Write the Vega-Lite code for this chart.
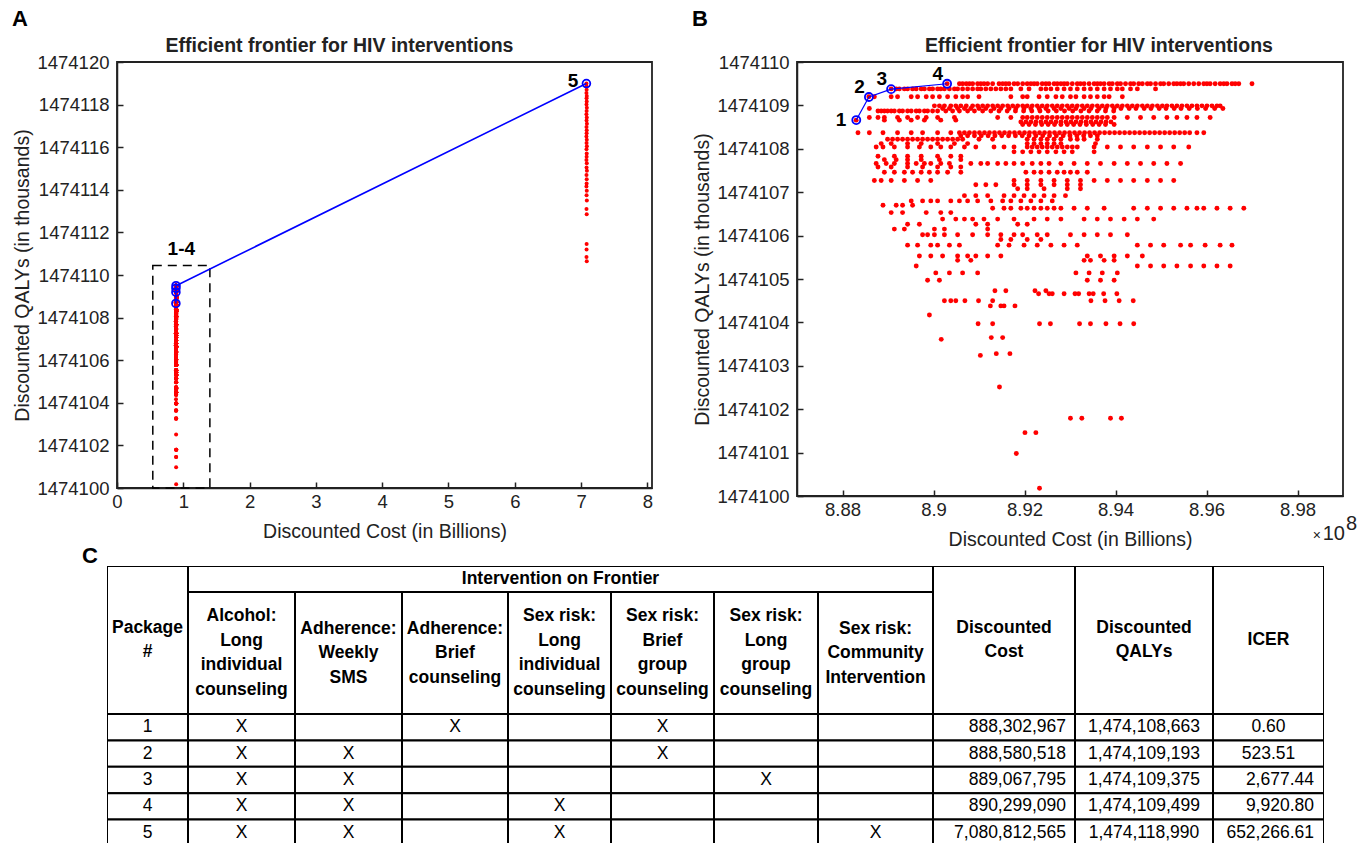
{
"$schema":"https://vega.github.io/schema/vega-lite/v6.json",
"background":"white",
"padding":{"left":11,"top":7,"right":0,"bottom":0},
"datasets":{
"fr":[{"pkg":"1","c":888.302967,"q":1474108.663},{"pkg":"2","c":888.580518,"q":1474109.193},{"pkg":"3","c":889.067795,"q":1474109.375},{"pkg":"4","c":890.29909,"q":1474109.499},{"pkg":"5","c":7080.812565,"q":1474118.99}],
"box":[{"c0":540,"c1":1401,"cm":970,"q0":1474100,"q1":1474110.45,"t":"1-4"}],
"tbl":[
{"pkg":"1","alc":"X","sms":"","brf":"X","sli":"","sbg":"X","slg":"","com":"","cost":"888,302,967","qaly":"1,474,108,663","icer":"0.60"},
{"pkg":"2","alc":"X","sms":"X","brf":"","sli":"","sbg":"X","slg":"","com":"","cost":"888,580,518","qaly":"1,474,109,193","icer":"523.51"},
{"pkg":"3","alc":"X","sms":"X","brf":"","sli":"","sbg":"","slg":"X","com":"","cost":"889,067,795","qaly":"1,474,109,375","icer":"2,677.44"},
{"pkg":"4","alc":"X","sms":"X","brf":"","sli":"X","sbg":"","slg":"","com":"","cost":"890,299,090","qaly":"1,474,109,499","icer":"9,920.80"},
{"pkg":"5","alc":"X","sms":"X","brf":"","sli":"X","sbg":"","slg":"","com":"X","cost":"7,080,812,565","qaly":"1,474,118,990","icer":"652,266.61"}],
"pts":[
{"c":890.3,"q":1474109.5},{"c":890.57,"q":1474109.5},{"c":890.64,"q":1474109.5},{"c":890.72,"q":1474109.5},{"c":890.79,"q":1474109.5},{"c":890.86,"q":1474109.5},{"c":890.97,"q":1474109.5},{"c":891.04,"q":1474109.5},{"c":891.11,"q":1474109.5},{"c":891.19,"q":1474109.5},{"c":891.3,"q":1474109.5},{"c":891.44,"q":1474109.5},{"c":891.52,"q":1474109.5},{"c":891.59,"q":1474109.5},{"c":891.66,"q":1474109.5},{"c":891.77,"q":1474109.5},{"c":891.85,"q":1474109.5},{"c":891.96,"q":1474109.5},{"c":892.06,"q":1474109.5},{"c":892.14,"q":1474109.5},{"c":892.21,"q":1474109.5},{"c":892.28,"q":1474109.5},{"c":892.39,"q":1474109.5},{"c":892.47,"q":1474109.5},{"c":892.54,"q":1474109.5},{"c":892.65,"q":1474109.5},{"c":892.72,"q":1474109.5},{"c":892.8,"q":1474109.5},{"c":892.87,"q":1474109.5},{"c":892.94,"q":1474109.5},{"c":893.05,"q":1474109.5},{"c":893.16,"q":1474109.5},{"c":893.23,"q":1474109.5},{"c":893.31,"q":1474109.5},{"c":893.42,"q":1474109.5},{"c":893.53,"q":1474109.5},{"c":893.6,"q":1474109.5},{"c":893.67,"q":1474109.5},{"c":893.75,"q":1474109.5},{"c":893.86,"q":1474109.5},{"c":893.93,"q":1474109.5},{"c":894.04,"q":1474109.5},{"c":894.11,"q":1474109.5},{"c":894.22,"q":1474109.5},{"c":894.33,"q":1474109.5},{"c":894.4,"q":1474109.5},{"c":894.51,"q":1474109.5},{"c":894.59,"q":1474109.5},{"c":894.7,"q":1474109.5},{"c":894.77,"q":1474109.5},{"c":894.88,"q":1474109.5},{"c":894.99,"q":1474109.5},{"c":895.06,"q":1474109.5},{"c":895.17,"q":1474109.5},{"c":895.28,"q":1474109.5},{"c":895.35,"q":1474109.5},{"c":895.43,"q":1474109.5},{"c":895.5,"q":1474109.5},{"c":895.61,"q":1474109.5},{"c":895.72,"q":1474109.5},{"c":895.83,"q":1474109.5},{"c":895.94,"q":1474109.5},{"c":896.01,"q":1474109.5},{"c":896.08,"q":1474109.5},{"c":896.19,"q":1474109.5},{"c":896.3,"q":1474109.5},{"c":896.38,"q":1474109.5},{"c":896.45,"q":1474109.5},{"c":896.56,"q":1474109.5},{"c":896.63,"q":1474109.5},{"c":896.71,"q":1474109.5},{"c":897.0,"q":1474109.5},
{"c":889.07,"q":1474109.38},{"c":889.18,"q":1474109.38},{"c":889.25,"q":1474109.38},{"c":889.36,"q":1474109.38},{"c":889.43,"q":1474109.38},{"c":889.54,"q":1474109.38},{"c":889.62,"q":1474109.38},{"c":889.73,"q":1474109.38},{"c":889.8,"q":1474109.38},{"c":889.91,"q":1474109.38},{"c":889.98,"q":1474109.38},{"c":890.09,"q":1474109.38},{"c":890.16,"q":1474109.38},{"c":890.24,"q":1474109.38},{"c":890.35,"q":1474109.38},{"c":890.46,"q":1474109.38},{"c":890.53,"q":1474109.38},{"c":890.64,"q":1474109.38},{"c":890.75,"q":1474109.38},{"c":890.86,"q":1474109.38},{"c":890.97,"q":1474109.38},{"c":891.04,"q":1474109.38},{"c":891.15,"q":1474109.38},{"c":891.26,"q":1474109.38},{"c":891.37,"q":1474109.38},{"c":891.48,"q":1474109.38},{"c":891.59,"q":1474109.38},{"c":891.7,"q":1474109.38},{"c":891.92,"q":1474109.38},{"c":892.1,"q":1474109.38},{"c":892.36,"q":1474109.38},{"c":892.47,"q":1474109.38},{"c":892.58,"q":1474109.38},{"c":892.72,"q":1474109.38},{"c":892.87,"q":1474109.38},{"c":893.01,"q":1474109.38},{"c":893.16,"q":1474109.38},{"c":893.31,"q":1474109.38},{"c":893.45,"q":1474109.38},{"c":893.6,"q":1474109.38},{"c":893.75,"q":1474109.38},{"c":893.89,"q":1474109.38},{"c":894.04,"q":1474109.38},{"c":894.15,"q":1474109.38},{"c":894.33,"q":1474109.38},{"c":894.48,"q":1474109.38},{"c":894.88,"q":1474109.38},
{"c":888.58,"q":1474109.2},{"c":888.7,"q":1474109.2},{"c":889.07,"q":1474109.2},{"c":889.21,"q":1474109.2},{"c":889.51,"q":1474109.2},{"c":889.65,"q":1474109.2},{"c":889.84,"q":1474109.2},{"c":889.98,"q":1474109.2},{"c":890.13,"q":1474109.2},{"c":890.31,"q":1474109.2},{"c":890.49,"q":1474109.2},{"c":890.64,"q":1474109.2},{"c":890.75,"q":1474109.2},{"c":891.0,"q":1474109.2},{"c":891.7,"q":1474109.2},{"c":891.96,"q":1474109.2},{"c":892.06,"q":1474109.2},{"c":892.32,"q":1474109.2},{"c":892.5,"q":1474109.2},{"c":892.69,"q":1474109.2},{"c":892.83,"q":1474109.2},{"c":893.01,"q":1474109.2},{"c":893.13,"q":1474109.2},{"c":893.31,"q":1474109.2},{"c":893.45,"q":1474109.2},{"c":893.6,"q":1474109.2},{"c":893.75,"q":1474109.2},{"c":893.86,"q":1474109.2},{"c":894.15,"q":1474109.2},
{"c":890.02,"q":1474108.99},{"c":890.13,"q":1474108.99},{"c":890.24,"q":1474108.99},{"c":890.38,"q":1474108.99},{"c":890.49,"q":1474108.99},{"c":890.6,"q":1474108.99},{"c":890.72,"q":1474108.99},{"c":890.86,"q":1474108.99},{"c":890.97,"q":1474108.99},{"c":891.08,"q":1474108.99},{"c":891.19,"q":1474108.99},{"c":891.3,"q":1474108.99},{"c":891.41,"q":1474108.99},{"c":891.52,"q":1474108.99},{"c":891.63,"q":1474108.99},{"c":891.74,"q":1474108.99},{"c":891.85,"q":1474108.99},{"c":891.96,"q":1474108.99},{"c":892.06,"q":1474108.99},{"c":892.17,"q":1474108.99},{"c":892.28,"q":1474108.99},{"c":892.39,"q":1474108.99},{"c":892.5,"q":1474108.99},{"c":892.61,"q":1474108.99},{"c":892.72,"q":1474108.99},{"c":892.83,"q":1474108.99},{"c":892.94,"q":1474108.99},{"c":893.05,"q":1474108.99},{"c":893.16,"q":1474108.99},{"c":893.27,"q":1474108.99},{"c":893.38,"q":1474108.99},{"c":893.49,"q":1474108.99},{"c":893.6,"q":1474108.99},{"c":893.71,"q":1474108.99},{"c":893.82,"q":1474108.99},{"c":893.93,"q":1474108.99},{"c":894.04,"q":1474108.99},{"c":894.15,"q":1474108.99},{"c":894.26,"q":1474108.99},{"c":894.37,"q":1474108.99},{"c":894.48,"q":1474108.99},{"c":894.59,"q":1474108.99},{"c":894.7,"q":1474108.99},{"c":894.81,"q":1474108.99},{"c":894.92,"q":1474108.99},{"c":895.03,"q":1474108.99},{"c":895.13,"q":1474108.99},{"c":895.24,"q":1474108.99},{"c":895.35,"q":1474108.99},{"c":895.46,"q":1474108.99},{"c":895.57,"q":1474108.99},{"c":895.68,"q":1474108.99},{"c":895.79,"q":1474108.99},{"c":895.9,"q":1474108.99},{"c":896.01,"q":1474108.99},{"c":896.12,"q":1474108.99},{"c":896.23,"q":1474108.99},{"c":896.3,"q":1474108.99},
{"c":888.59,"q":1474108.93},{"c":890.2,"q":1474108.93},{"c":890.35,"q":1474108.93},{"c":890.53,"q":1474108.93},{"c":890.68,"q":1474108.93},{"c":890.82,"q":1474108.93},{"c":891.0,"q":1474108.93},{"c":891.15,"q":1474108.93},{"c":891.33,"q":1474108.93},{"c":891.48,"q":1474108.93},{"c":891.66,"q":1474108.93},{"c":891.81,"q":1474108.93},{"c":891.99,"q":1474108.93},{"c":892.14,"q":1474108.93},{"c":892.32,"q":1474108.93},{"c":892.47,"q":1474108.93},{"c":892.65,"q":1474108.93},{"c":892.8,"q":1474108.93},{"c":892.98,"q":1474108.93},{"c":893.13,"q":1474108.93},{"c":893.31,"q":1474108.93},{"c":893.46,"q":1474108.93},{"c":893.64,"q":1474108.93},{"c":893.79,"q":1474108.93},{"c":893.97,"q":1474108.93},{"c":894.12,"q":1474108.93},{"c":894.3,"q":1474108.93},{"c":894.45,"q":1474108.93},{"c":894.63,"q":1474108.93},{"c":894.78,"q":1474108.93},{"c":894.96,"q":1474108.93},{"c":895.11,"q":1474108.93},{"c":895.29,"q":1474108.93},{"c":895.44,"q":1474108.93},{"c":895.62,"q":1474108.93},{"c":895.8,"q":1474108.93},{"c":895.98,"q":1474108.93},{"c":896.18,"q":1474108.93},{"c":896.36,"q":1474108.93},
{"c":888.78,"q":1474108.87},{"c":888.85,"q":1474108.87},{"c":888.92,"q":1474108.87},{"c":888.99,"q":1474108.87},{"c":889.07,"q":1474108.87},{"c":889.14,"q":1474108.87},{"c":889.25,"q":1474108.87},{"c":889.32,"q":1474108.87},{"c":889.43,"q":1474108.87},{"c":889.51,"q":1474108.87},{"c":889.62,"q":1474108.87},{"c":889.69,"q":1474108.87},{"c":889.8,"q":1474108.87},{"c":889.87,"q":1474108.87},{"c":889.98,"q":1474108.87},{"c":890.09,"q":1474108.87},{"c":890.27,"q":1474108.87},{"c":890.42,"q":1474108.87},{"c":890.57,"q":1474108.87},{"c":890.75,"q":1474108.87},{"c":890.9,"q":1474108.87},{"c":891.08,"q":1474108.87},{"c":891.26,"q":1474108.87},{"c":891.44,"q":1474108.87},{"c":891.62,"q":1474108.87},{"c":891.8,"q":1474108.87},{"c":891.98,"q":1474108.87},{"c":892.16,"q":1474108.87},{"c":892.34,"q":1474108.87},{"c":892.52,"q":1474108.87},{"c":892.7,"q":1474108.87},{"c":892.88,"q":1474108.87},{"c":893.06,"q":1474108.87},{"c":893.24,"q":1474108.87},{"c":893.42,"q":1474108.87},{"c":893.6,"q":1474108.87},{"c":893.78,"q":1474108.87},{"c":893.96,"q":1474108.87},
{"c":888.59,"q":1474108.72},{"c":888.78,"q":1474108.72},{"c":888.92,"q":1474108.72},{"c":889.21,"q":1474108.72},{"c":889.43,"q":1474108.72},{"c":889.65,"q":1474108.72},{"c":889.84,"q":1474108.72},{"c":890.09,"q":1474108.72},{"c":890.46,"q":1474108.72},{"c":891.41,"q":1474108.72},{"c":891.7,"q":1474108.72},{"c":891.96,"q":1474108.72},{"c":892.06,"q":1474108.72},{"c":892.17,"q":1474108.72},{"c":892.28,"q":1474108.72},{"c":892.39,"q":1474108.72},{"c":892.5,"q":1474108.72},{"c":892.61,"q":1474108.72},{"c":892.72,"q":1474108.72},{"c":892.83,"q":1474108.72},{"c":892.94,"q":1474108.72},{"c":893.05,"q":1474108.72},{"c":893.16,"q":1474108.72},{"c":893.27,"q":1474108.72},{"c":893.38,"q":1474108.72},{"c":893.49,"q":1474108.72},{"c":893.6,"q":1474108.72},{"c":893.71,"q":1474108.72},{"c":893.82,"q":1474108.72},{"c":893.97,"q":1474108.72},{"c":894.26,"q":1474108.72},{"c":894.55,"q":1474108.72},{"c":894.84,"q":1474108.72},{"c":895.13,"q":1474108.72},{"c":895.35,"q":1474108.72},{"c":895.57,"q":1474108.72},{"c":895.79,"q":1474108.72},{"c":896.08,"q":1474108.72},
{"c":888.3,"q":1474108.66},{"c":888.92,"q":1474108.66},{"c":889.25,"q":1474108.66},{"c":889.51,"q":1474108.66},{"c":889.8,"q":1474108.66},{"c":890.16,"q":1474108.66},{"c":890.49,"q":1474108.66},
{"c":891.92,"q":1474108.62},{"c":892.03,"q":1474108.62},{"c":892.14,"q":1474108.62},{"c":892.25,"q":1474108.62},{"c":892.36,"q":1474108.62},{"c":892.47,"q":1474108.62},{"c":892.58,"q":1474108.62},{"c":892.69,"q":1474108.62},{"c":892.8,"q":1474108.62},{"c":892.91,"q":1474108.62},{"c":893.02,"q":1474108.62},{"c":893.13,"q":1474108.62},{"c":893.24,"q":1474108.62},{"c":893.35,"q":1474108.62},{"c":893.46,"q":1474108.62},{"c":893.57,"q":1474108.62},{"c":893.68,"q":1474108.62},{"c":893.79,"q":1474108.62},{"c":893.9,"q":1474108.62},
{"c":891.96,"q":1474108.56},{"c":892.1,"q":1474108.56},{"c":892.24,"q":1474108.56},{"c":892.38,"q":1474108.56},{"c":892.52,"q":1474108.56},{"c":892.66,"q":1474108.56},{"c":892.8,"q":1474108.56},{"c":892.94,"q":1474108.56},{"c":893.08,"q":1474108.56},{"c":893.22,"q":1474108.56},{"c":893.36,"q":1474108.56},{"c":893.5,"q":1474108.56},{"c":893.64,"q":1474108.56},{"c":893.78,"q":1474108.56},{"c":893.97,"q":1474108.56},
{"c":888.34,"q":1474108.37},{"c":888.59,"q":1474108.37},{"c":888.89,"q":1474108.37},{"c":889.21,"q":1474108.37},{"c":889.51,"q":1474108.37},{"c":889.76,"q":1474108.37},{"c":890.09,"q":1474108.37},{"c":890.38,"q":1474108.37},{"c":890.57,"q":1474108.37},{"c":890.68,"q":1474108.37},{"c":890.79,"q":1474108.37},{"c":890.9,"q":1474108.37},{"c":891.01,"q":1474108.37},{"c":891.12,"q":1474108.37},{"c":891.23,"q":1474108.37},{"c":891.34,"q":1474108.37},{"c":891.45,"q":1474108.37},{"c":891.56,"q":1474108.37},{"c":891.67,"q":1474108.37},{"c":891.78,"q":1474108.37},{"c":891.89,"q":1474108.37},{"c":892.0,"q":1474108.37},{"c":892.11,"q":1474108.37},{"c":892.22,"q":1474108.37},{"c":892.33,"q":1474108.37},{"c":892.44,"q":1474108.37},{"c":892.55,"q":1474108.37},{"c":892.66,"q":1474108.37},{"c":892.77,"q":1474108.37},{"c":892.88,"q":1474108.37},{"c":892.99,"q":1474108.37},{"c":893.1,"q":1474108.37},{"c":893.21,"q":1474108.37},{"c":893.32,"q":1474108.37},{"c":893.43,"q":1474108.37},{"c":893.54,"q":1474108.37},{"c":893.65,"q":1474108.37},{"c":893.76,"q":1474108.37},{"c":893.87,"q":1474108.37},{"c":893.98,"q":1474108.37},{"c":894.09,"q":1474108.37},{"c":894.2,"q":1474108.37},{"c":894.31,"q":1474108.37},{"c":894.42,"q":1474108.37},{"c":894.53,"q":1474108.37},{"c":894.64,"q":1474108.37},{"c":894.75,"q":1474108.37},{"c":894.86,"q":1474108.37},{"c":894.97,"q":1474108.37},{"c":895.08,"q":1474108.37},{"c":895.19,"q":1474108.37},{"c":895.3,"q":1474108.37},{"c":895.41,"q":1474108.37},{"c":895.52,"q":1474108.37},{"c":895.63,"q":1474108.37},{"c":895.79,"q":1474108.37},{"c":895.94,"q":1474108.37},
{"c":890.6,"q":1474108.3},{"c":890.75,"q":1474108.3},{"c":890.9,"q":1474108.3},{"c":891.05,"q":1474108.3},{"c":891.2,"q":1474108.3},{"c":891.35,"q":1474108.3},{"c":891.5,"q":1474108.3},{"c":891.65,"q":1474108.3},{"c":891.8,"q":1474108.3},{"c":891.95,"q":1474108.3},{"c":892.1,"q":1474108.3},{"c":892.25,"q":1474108.3},{"c":892.4,"q":1474108.3},{"c":892.55,"q":1474108.3},{"c":892.7,"q":1474108.3},{"c":892.85,"q":1474108.3},{"c":893.0,"q":1474108.3},{"c":893.15,"q":1474108.3},{"c":893.3,"q":1474108.3},{"c":893.45,"q":1474108.3},{"c":893.6,"q":1474108.3},
{"c":888.99,"q":1474108.22},{"c":889.1,"q":1474108.22},{"c":889.21,"q":1474108.22},{"c":889.32,"q":1474108.22},{"c":889.43,"q":1474108.22},{"c":889.54,"q":1474108.22},{"c":889.65,"q":1474108.22},{"c":889.76,"q":1474108.22},{"c":889.87,"q":1474108.22},{"c":889.98,"q":1474108.22},{"c":890.09,"q":1474108.22},{"c":890.2,"q":1474108.22},{"c":890.31,"q":1474108.22},{"c":890.42,"q":1474108.22},{"c":890.53,"q":1474108.22},{"c":890.64,"q":1474108.22},{"c":891.0,"q":1474108.22},{"c":891.3,"q":1474108.22},{"c":892.06,"q":1474108.22},{"c":892.21,"q":1474108.22},{"c":892.36,"q":1474108.22},{"c":892.5,"q":1474108.22},{"c":892.65,"q":1474108.22},{"c":892.8,"q":1474108.22},{"c":893.01,"q":1474108.22},{"c":893.16,"q":1474108.22},{"c":893.31,"q":1474108.22},{"c":893.6,"q":1474108.22},
{"c":888.85,"q":1474108.12},{"c":889.07,"q":1474108.12},{"c":889.43,"q":1474108.12},{"c":889.73,"q":1474108.12},{"c":890.09,"q":1474108.12},{"c":890.46,"q":1474108.12},{"c":890.75,"q":1474108.12},{"c":892.06,"q":1474108.12},{"c":892.21,"q":1474108.12},{"c":892.36,"q":1474108.12},{"c":892.5,"q":1474108.12},{"c":892.65,"q":1474108.12},{"c":892.8,"q":1474108.12},{"c":893.56,"q":1474108.12},
{"c":888.74,"q":1474108.04},{"c":888.89,"q":1474108.04},{"c":889.14,"q":1474108.04},{"c":889.43,"q":1474108.04},{"c":889.69,"q":1474108.04},{"c":889.94,"q":1474108.04},{"c":890.16,"q":1474108.04},{"c":890.38,"q":1474108.04},{"c":890.68,"q":1474108.04},{"c":890.93,"q":1474108.04},{"c":891.33,"q":1474108.04},{"c":891.55,"q":1474108.04},{"c":891.77,"q":1474108.04},{"c":892.06,"q":1474108.04},{"c":892.17,"q":1474108.04},{"c":892.28,"q":1474108.04},{"c":892.39,"q":1474108.04},{"c":892.5,"q":1474108.04},{"c":892.61,"q":1474108.04},{"c":892.72,"q":1474108.04},{"c":892.83,"q":1474108.04},{"c":892.94,"q":1474108.04},{"c":893.05,"q":1474108.04},{"c":893.16,"q":1474108.04},{"c":893.53,"q":1474108.04},{"c":893.82,"q":1474108.04},{"c":894.11,"q":1474108.04},{"c":894.4,"q":1474108.04},{"c":894.7,"q":1474108.04},{"c":894.99,"q":1474108.04},{"c":895.28,"q":1474108.04},{"c":895.61,"q":1474108.04},
{"c":891.77,"q":1474107.93},{"c":891.96,"q":1474107.93},{"c":892.14,"q":1474107.93},{"c":892.32,"q":1474107.93},{"c":892.5,"q":1474107.93},{"c":892.69,"q":1474107.93},{"c":892.87,"q":1474107.93},{"c":893.05,"q":1474107.93},{"c":893.53,"q":1474107.93},
{"c":888.78,"q":1474107.83},{"c":889.14,"q":1474107.83},{"c":889.43,"q":1474107.83},{"c":889.73,"q":1474107.83},{"c":890.09,"q":1474107.83},{"c":890.38,"q":1474107.83},{"c":890.6,"q":1474107.83},
{"c":888.92,"q":1474107.75},{"c":889.18,"q":1474107.75},{"c":889.43,"q":1474107.75},{"c":889.73,"q":1474107.75},{"c":890.13,"q":1474107.75},{"c":890.6,"q":1474107.75},
{"c":888.74,"q":1474107.66},{"c":888.96,"q":1474107.66},{"c":889.14,"q":1474107.66},{"c":889.43,"q":1474107.66},{"c":889.62,"q":1474107.66},{"c":889.8,"q":1474107.66},{"c":889.94,"q":1474107.66},{"c":890.16,"q":1474107.66},{"c":890.35,"q":1474107.66},{"c":890.82,"q":1474107.66},{"c":891.04,"q":1474107.66},{"c":891.19,"q":1474107.66},{"c":891.41,"q":1474107.66},{"c":891.59,"q":1474107.66},{"c":891.77,"q":1474107.66},{"c":891.96,"q":1474107.66},{"c":892.17,"q":1474107.66},{"c":892.36,"q":1474107.66},{"c":892.54,"q":1474107.66},{"c":892.8,"q":1474107.66},{"c":893.09,"q":1474107.66},{"c":893.38,"q":1474107.66},{"c":893.67,"q":1474107.66},{"c":893.97,"q":1474107.66},{"c":894.26,"q":1474107.66},{"c":894.55,"q":1474107.66},{"c":894.84,"q":1474107.66},{"c":895.13,"q":1474107.66},{"c":895.43,"q":1474107.66},
{"c":888.78,"q":1474107.58},{"c":889.07,"q":1474107.58},{"c":889.43,"q":1474107.58},{"c":889.76,"q":1474107.58},{"c":890.09,"q":1474107.58},{"c":890.38,"q":1474107.58},{"c":890.6,"q":1474107.58},
{"c":888.92,"q":1474107.46},{"c":889.14,"q":1474107.46},{"c":889.36,"q":1474107.46},{"c":889.54,"q":1474107.46},{"c":889.73,"q":1474107.46},{"c":889.91,"q":1474107.46},{"c":890.09,"q":1474107.46},{"c":890.31,"q":1474107.46},{"c":890.6,"q":1474107.46},{"c":892.03,"q":1474107.46},{"c":892.21,"q":1474107.46},{"c":892.36,"q":1474107.46},{"c":892.54,"q":1474107.46},{"c":892.72,"q":1474107.46},{"c":892.87,"q":1474107.46},{"c":893.01,"q":1474107.46},{"c":893.16,"q":1474107.46},{"c":893.38,"q":1474107.46},
{"c":888.7,"q":1474107.27},{"c":888.85,"q":1474107.27},{"c":889.07,"q":1474107.27},{"c":889.36,"q":1474107.27},{"c":889.65,"q":1474107.27},{"c":889.94,"q":1474107.27},{"c":891.77,"q":1474107.27},{"c":892.06,"q":1474107.27},{"c":892.36,"q":1474107.27},{"c":892.65,"q":1474107.27},{"c":892.94,"q":1474107.27},{"c":893.23,"q":1474107.27},{"c":893.53,"q":1474107.27},{"c":893.82,"q":1474107.27},{"c":894.11,"q":1474107.27},{"c":894.4,"q":1474107.27},{"c":894.7,"q":1474107.27},{"c":894.99,"q":1474107.27},{"c":895.28,"q":1474107.27},
{"c":890.93,"q":1474107.17},{"c":891.15,"q":1474107.17},{"c":891.37,"q":1474107.17},{"c":891.77,"q":1474107.17},{"c":892.06,"q":1474107.17},{"c":892.36,"q":1474107.17},{"c":892.65,"q":1474107.17},{"c":892.94,"q":1474107.17},{"c":893.23,"q":1474107.17},
{"c":891.85,"q":1474107.08},{"c":892.06,"q":1474107.08},{"c":892.43,"q":1474107.08},{"c":892.94,"q":1474107.08},{"c":893.23,"q":1474107.08},
{"c":890.68,"q":1474106.92},{"c":890.93,"q":1474106.92},{"c":891.19,"q":1474106.92},{"c":891.55,"q":1474106.92},{"c":891.77,"q":1474106.92},{"c":891.99,"q":1474106.92},{"c":892.21,"q":1474106.92},{"c":892.43,"q":1474106.92},{"c":892.65,"q":1474106.92},{"c":892.9,"q":1474106.92},
{"c":889.51,"q":1474106.8},{"c":889.76,"q":1474106.8},{"c":889.94,"q":1474106.8},{"c":890.09,"q":1474106.8},{"c":890.38,"q":1474106.8},{"c":890.57,"q":1474106.8},{"c":890.75,"q":1474106.8},{"c":890.97,"q":1474106.8},{"c":891.26,"q":1474106.8},{"c":891.52,"q":1474106.8},{"c":891.7,"q":1474106.8},{"c":891.92,"q":1474106.8},{"c":892.14,"q":1474106.8},{"c":892.36,"q":1474106.8},{"c":892.61,"q":1474106.8},
{"c":888.89,"q":1474106.7},{"c":889.18,"q":1474106.7},{"c":889.32,"q":1474106.7},{"c":889.54,"q":1474106.7},
{"c":891.3,"q":1474106.63},{"c":891.55,"q":1474106.63},{"c":891.7,"q":1474106.63},{"c":891.92,"q":1474106.63},{"c":892.06,"q":1474106.63},{"c":892.21,"q":1474106.63},{"c":892.36,"q":1474106.63},{"c":892.5,"q":1474106.63},{"c":892.65,"q":1474106.63},{"c":892.8,"q":1474106.63},{"c":893.09,"q":1474106.63},{"c":893.38,"q":1474106.63},{"c":893.75,"q":1474106.63},{"c":894.4,"q":1474106.63},{"c":894.7,"q":1474106.63},{"c":894.99,"q":1474106.63},{"c":895.28,"q":1474106.63},{"c":895.57,"q":1474106.63},{"c":895.79,"q":1474106.63},{"c":895.94,"q":1474106.63},{"c":896.23,"q":1474106.63},{"c":896.52,"q":1474106.63},{"c":896.82,"q":1474106.63},
{"c":889.07,"q":1474106.53},{"c":889.32,"q":1474106.53},{"c":889.84,"q":1474106.53},{"c":890.16,"q":1474106.53},{"c":890.38,"q":1474106.53},
{"c":890.2,"q":1474106.38},{"c":890.49,"q":1474106.38},{"c":890.68,"q":1474106.38},{"c":890.86,"q":1474106.38},{"c":891.11,"q":1474106.38},{"c":891.41,"q":1474106.38},{"c":891.77,"q":1474106.38},{"c":892.21,"q":1474106.38},{"c":892.5,"q":1474106.38},{"c":892.8,"q":1474106.38},{"c":893.31,"q":1474106.38},{"c":893.6,"q":1474106.38},{"c":893.89,"q":1474106.38},{"c":894.19,"q":1474106.38},{"c":894.48,"q":1474106.38},{"c":894.84,"q":1474106.38},
{"c":889.43,"q":1474106.26},{"c":889.69,"q":1474106.26},{"c":890.93,"q":1474106.26},{"c":891.19,"q":1474106.26},{"c":891.85,"q":1474106.26},{"c":892.06,"q":1474106.26},
{"c":889.14,"q":1474106.15},{"c":889.36,"q":1474106.15},{"c":890.02,"q":1474106.15},{"c":890.24,"q":1474106.15},{"c":891.19,"q":1474106.15},
{"c":889.76,"q":1474106.02},{"c":889.87,"q":1474106.02},{"c":890.02,"q":1474106.02},{"c":890.24,"q":1474106.02},{"c":890.53,"q":1474106.02},{"c":890.86,"q":1474106.02},{"c":891.19,"q":1474106.02},{"c":891.48,"q":1474106.02},{"c":891.77,"q":1474106.02},{"c":891.96,"q":1474106.02},{"c":892.28,"q":1474106.02},{"c":892.5,"q":1474106.02},{"c":893.01,"q":1474106.02},{"c":893.31,"q":1474106.02},{"c":893.6,"q":1474106.02},{"c":893.89,"q":1474106.02},{"c":894.26,"q":1474106.02},
{"c":891.48,"q":1474105.91},{"c":891.7,"q":1474105.91},{"c":892.06,"q":1474105.91},{"c":892.36,"q":1474105.91},
{"c":889.43,"q":1474105.78},{"c":889.65,"q":1474105.78},{"c":889.94,"q":1474105.78},{"c":890.09,"q":1474105.78},{"c":890.35,"q":1474105.78},{"c":890.57,"q":1474105.78},{"c":891.41,"q":1474105.78},{"c":891.66,"q":1474105.78},{"c":891.99,"q":1474105.78},{"c":892.28,"q":1474105.78},{"c":892.58,"q":1474105.78},{"c":892.87,"q":1474105.78},{"c":893.16,"q":1474105.78},{"c":894.48,"q":1474105.78},{"c":894.77,"q":1474105.78},{"c":895.06,"q":1474105.78},{"c":895.43,"q":1474105.78},{"c":895.65,"q":1474105.78},{"c":895.97,"q":1474105.78},{"c":896.3,"q":1474105.78},{"c":896.56,"q":1474105.78},
{"c":889.69,"q":1474105.53},{"c":889.94,"q":1474105.53},{"c":890.2,"q":1474105.53},{"c":890.53,"q":1474105.53},{"c":890.75,"q":1474105.53},{"c":890.93,"q":1474105.53},{"c":891.19,"q":1474105.53},{"c":891.48,"q":1474105.53},{"c":893.38,"q":1474105.53},{"c":893.67,"q":1474105.53},{"c":893.97,"q":1474105.53},{"c":894.26,"q":1474105.53},{"c":894.59,"q":1474105.53},
{"c":890.53,"q":1474105.43},{"c":890.82,"q":1474105.43},{"c":893.31,"q":1474105.43},{"c":893.45,"q":1474105.43},{"c":893.75,"q":1474105.43},{"c":893.97,"q":1474105.43},
{"c":889.62,"q":1474105.3},{"c":894.48,"q":1474105.3},{"c":894.77,"q":1474105.3},{"c":895.06,"q":1474105.3},{"c":895.35,"q":1474105.3},{"c":895.65,"q":1474105.3},{"c":895.94,"q":1474105.3},{"c":896.23,"q":1474105.3},{"c":896.52,"q":1474105.3},
{"c":890.05,"q":1474105.14},{"c":890.35,"q":1474105.14},{"c":890.64,"q":1474105.14},{"c":890.97,"q":1474105.14},{"c":893.13,"q":1474105.14},{"c":893.42,"q":1474105.14},{"c":893.71,"q":1474105.14},{"c":894.04,"q":1474105.14},
{"c":889.87,"q":1474104.97},{"c":890.13,"q":1474104.97},{"c":893.38,"q":1474104.97},{"c":893.67,"q":1474104.97},{"c":893.97,"q":1474104.97},
{"c":891.35,"q":1474104.73},{"c":891.59,"q":1474104.73},{"c":892.23,"q":1474104.73},{"c":892.47,"q":1474104.73},
{"c":892.31,"q":1474104.66},{"c":892.54,"q":1474104.66},{"c":892.61,"q":1474104.66},{"c":892.87,"q":1474104.66},{"c":893.11,"q":1474104.66},{"c":893.19,"q":1474104.66},{"c":893.42,"q":1474104.66},{"c":893.51,"q":1474104.66},{"c":893.74,"q":1474104.66},{"c":894.03,"q":1474104.66},
{"c":890.24,"q":1474104.5},{"c":890.38,"q":1474104.5},{"c":890.49,"q":1474104.5},{"c":890.69,"q":1474104.5},{"c":890.99,"q":1474104.5},{"c":891.3,"q":1474104.5},{"c":893.46,"q":1474104.5},{"c":893.77,"q":1474104.5},{"c":894.08,"q":1474104.5},{"c":894.39,"q":1474104.5},
{"c":891.25,"q":1474104.38},{"c":891.48,"q":1474104.38},{"c":891.55,"q":1474104.38},{"c":891.79,"q":1474104.38},
{"c":889.91,"q":1474104.17},
{"c":890.98,"q":1474103.97},{"c":891.3,"q":1474103.97},{"c":892.33,"q":1474103.97},{"c":892.57,"q":1474103.97},{"c":893.21,"q":1474103.97},{"c":893.45,"q":1474103.97},{"c":893.79,"q":1474103.97},{"c":894.1,"q":1474103.97},{"c":894.4,"q":1474103.97},
{"c":891.27,"q":1474103.65},{"c":891.52,"q":1474103.65},{"c":890.17,"q":1474103.61},
{"c":891.38,"q":1474103.28},{"c":891.68,"q":1474103.28},{"c":891.03,"q":1474103.24},
{"c":891.45,"q":1474102.51},
{"c":893.01,"q":1474101.79},{"c":893.26,"q":1474101.79},{"c":893.89,"q":1474101.79},{"c":894.13,"q":1474101.79},
{"c":892.01,"q":1474101.46},{"c":892.25,"q":1474101.46},
{"c":891.82,"q":1474100.98},
{"c":892.33,"q":1474100.18},
{"c":7080.8,"q":1474118.99},{"c":7082,"q":1474118.85},{"c":7084,"q":1474118.7},{"c":7081,"q":1474118.55},{"c":7086,"q":1474118.4},{"c":7083,"q":1474118.3},{"c":7085,"q":1474118.15},{"c":7082,"q":1474118.0},{"c":7087,"q":1474117.85},{"c":7084,"q":1474117.7},{"c":7081,"q":1474117.55},{"c":7086,"q":1474117.4},{"c":7083,"q":1474117.25},{"c":7088,"q":1474117.1},{"c":7082,"q":1474116.95},{"c":7085,"q":1474116.8},{"c":7084,"q":1474116.65},{"c":7081,"q":1474116.5},{"c":7086,"q":1474116.35},{"c":7083,"q":1474116.2},{"c":7087,"q":1474116.05},{"c":7082,"q":1474115.9},{"c":7085,"q":1474115.7},{"c":7084,"q":1474115.55},{"c":7081,"q":1474115.4},{"c":7086,"q":1474115.25},{"c":7083,"q":1474115.05},{"c":7088,"q":1474114.9},{"c":7082,"q":1474114.7},{"c":7085,"q":1474114.5},{"c":7084,"q":1474114.3},{"c":7081,"q":1474114.15},{"c":7086,"q":1474113.95},{"c":7083,"q":1474113.75},{"c":7087,"q":1474113.5},{"c":7082,"q":1474113.1},{"c":7085,"q":1474112.85},{"c":7084,"q":1474111.45},{"c":7083,"q":1474111.2},{"c":7082,"q":1474110.85},{"c":7086,"q":1474110.65}
]},
"concat":[
{"hconcat":[
 {"width":1,"height":1,"data":{"values":[{}]},"mark":{"type":"point","opacity":0,"size":0},"view":{"stroke":null}},
 {"hconcat":[
 {"title":{"text":"A","anchor":"start","fontSize":22,"fontWeight":"bold","color":"black","offset":4},
  "vconcat":[
  {"width":535,"height":426,
   "title":{"text":"Efficient frontier for HIV interventions","dx":-45,"offset":-3},
   "encoding":{
     "x":{"field":"c","type":"quantitative","scale":{"domain":[0,8070],"nice":false,"zero":false},"axis":{"values":[0,1000,2000,3000,4000,5000,6000,7000,8000],"labelExpr":"datum.value/1000","title":"Discounted Cost (in Billions)","labelPadding":10,"titlePadding":12}},
     "y":{"field":"q","type":"quantitative","scale":{"domain":[1474100,1474120],"nice":false,"zero":false},"axis":{"values":[1474100,1474102,1474104,1474106,1474108,1474110,1474112,1474114,1474116,1474118,1474120],"format":"d","title":"Discounted QALYs (in thousands)"}}
   },
   "layer":[
    {"data":{"name":"box"},"mark":{"type":"rect","fillOpacity":0,"stroke":"black","strokeDash":[9,6],"strokeWidth":1.5},
     "encoding":{"x":{"field":"c0","type":"quantitative"},"x2":{"field":"c1"},"y":{"field":"q0","type":"quantitative"},"y2":{"field":"q1"}}},
    {"data":{"name":"box"},"mark":{"type":"text","fontWeight":"bold","fontSize":19,"baseline":"alphabetic","dy":-10},
     "encoding":{"x":{"field":"cm","type":"quantitative"},"y":{"field":"q1","type":"quantitative"},"text":{"field":"t"}}},
    {"data":{"name":"pts"},"mark":{"type":"point","filled":true,"color":"red","size":16,"opacity":1}},
    {"data":{"name":"fr"},"mark":{"type":"line","color":"blue","strokeWidth":1.6}},
    {"data":{"name":"fr"},"mark":{"type":"point","filled":false,"color":"blue","size":60,"strokeWidth":1.8,"opacity":1}},
    {"data":{"name":"fr"},"transform":[{"filter":"datum.pkg == '5'"}],"mark":{"type":"text","fontWeight":"bold","fontSize":19,"align":"right","baseline":"alphabetic","dx":-8,"dy":3},"encoding":{"text":{"field":"pkg"}}}
   ]}
  ]},
 {"title":{"text":"B","anchor":"start","fontSize":22,"fontWeight":"bold","color":"black","offset":4},
  "vconcat":[
  {"width":546,"height":434,
   "title":{"text":"Efficient frontier for HIV interventions","dx":29,"offset":-3},
   "encoding":{
     "x":{"field":"c","type":"quantitative","scale":{"domain":[887,899],"nice":false,"zero":false},"axis":{"values":[888,890,892,894,896,898],"labelExpr":"toString(datum.value/100)","title":"Discounted Cost (in Billions)","labelPadding":10,"titlePadding":12}},
     "y":{"field":"q","type":"quantitative","scale":{"domain":[1474100,1474110],"nice":false,"zero":false},"axis":{"values":[1474100,1474101,1474102,1474103,1474104,1474105,1474106,1474107,1474108,1474109,1474110],"format":"d","title":"Discounted QALYs (in thousands)"}}
   },
   "layer":[
    {"data":{"name":"pts"},"transform":[{"filter":"datum.c < 1000"}],"mark":{"type":"point","filled":true,"color":"red","size":24,"opacity":1}},
    {"data":{"name":"fr"},"transform":[{"filter":"datum.c < 1000"}],"mark":{"type":"line","color":"blue","strokeWidth":1.2}},
    {"data":{"name":"fr"},"transform":[{"filter":"datum.c < 1000"}],"mark":{"type":"point","filled":false,"color":"blue","size":64,"strokeWidth":1.8,"opacity":1}},
    {"data":{"name":"fr"},"transform":[{"filter":"datum.pkg == '1'"}],"mark":{"type":"text","fontWeight":"bold","fontSize":19,"align":"right","baseline":"middle","dx":-10},"encoding":{"text":{"field":"pkg"}}},
    {"data":{"name":"fr"},"transform":[{"filter":"datum.pkg == '2' || datum.pkg == '3' || datum.pkg == '4'"}],"mark":{"type":"text","fontWeight":"bold","fontSize":19,"align":"right","baseline":"alphabetic","dx":-4,"dy":-4},"encoding":{"text":{"field":"pkg"}}},
    {"data":{"values":[{"t":"×"}]},"mark":{"type":"text","fontSize":14,"align":"right","baseline":"alphabetic","dx":-22,"dy":44,"color":"#222"},"encoding":{"text":{"field":"t"},"x":{"value":"width"},"y":{"value":"height"}}},
    {"data":{"values":[{"t":"10"}]},"mark":{"type":"text","fontSize":20,"align":"right","baseline":"alphabetic","dx":2,"dy":44,"color":"#222"},"encoding":{"text":{"field":"t"},"x":{"value":"width"},"y":{"value":"height"}}},
    {"data":{"values":[{"t":"8"}]},"mark":{"type":"text","fontSize":20,"align":"left","baseline":"alphabetic","dx":3,"dy":34,"color":"#222"},"encoding":{"text":{"field":"t"},"x":{"value":"width"},"y":{"value":"height"}}}
   ]}
  ]}
 ],"spacing":38}
],"spacing":0},
{"title":{"text":"C","anchor":"start","frame":"group","fontSize":22,"fontWeight":"bold","color":"black","offset":-2,"dx":71},
 "hconcat":[
  {"width":96,"height":280,"data":{"values":[{}]},"mark":{"type":"point","opacity":0,"size":0},"view":{"stroke":null}},
  {"vconcat":[
   {"hconcat":[
     {"width":81,"height":148,"data":{"values":[{"t":["Package","#"]}]},"view":{"stroke":null},"layer":[{"mark":{"type":"rect","fill":"white","stroke":"black","strokeWidth":2,"clip":true}},{"mark":{"type":"text","fontWeight":"bold","fontSize":17.5,"lineHeight":24.5,"dy":-12.25},"encoding":{"text":{"field":"t","type":"nominal"}}}]},
     {"vconcat":[
       {"width":745,"height":26,"data":{"values":[{"t":"Intervention on Frontier"}]},"view":{"stroke":null},"layer":[{"mark":{"type":"rect","fill":"white","stroke":"black","strokeWidth":2,"clip":true}},{"mark":{"type":"text","fontWeight":"bold","fontSize":17.5},"encoding":{"text":{"field":"t","type":"nominal"}}}]},
       {"hconcat":[
         {"width":107,"height":122,"data":{"values":[{"t":["Alcohol:","Long","individual","counseling"]}]},"view":{"stroke":null},"layer":[{"mark":{"type":"rect","fill":"white","stroke":"black","strokeWidth":2,"clip":true}},{"mark":{"type":"text","fontWeight":"bold","fontSize":17.5,"lineHeight":24.5,"dy":-36.75},"encoding":{"text":{"field":"t","type":"nominal"}}}]},
         {"width":107,"height":122,"data":{"values":[{"t":["Adherence:","Weekly","SMS"]}]},"view":{"stroke":null},"layer":[{"mark":{"type":"rect","fill":"white","stroke":"black","strokeWidth":2,"clip":true}},{"mark":{"type":"text","fontWeight":"bold","fontSize":17.5,"lineHeight":24.5,"dy":-24.5},"encoding":{"text":{"field":"t","type":"nominal"}}}]},
         {"width":106,"height":122,"data":{"values":[{"t":["Adherence:","Brief","counseling"]}]},"view":{"stroke":null},"layer":[{"mark":{"type":"rect","fill":"white","stroke":"black","strokeWidth":2,"clip":true}},{"mark":{"type":"text","fontWeight":"bold","fontSize":17.5,"lineHeight":24.5,"dy":-24.5},"encoding":{"text":{"field":"t","type":"nominal"}}}]},
         {"width":103,"height":122,"data":{"values":[{"t":["Sex risk:","Long","individual","counseling"]}]},"view":{"stroke":null},"layer":[{"mark":{"type":"rect","fill":"white","stroke":"black","strokeWidth":2,"clip":true}},{"mark":{"type":"text","fontWeight":"bold","fontSize":17.5,"lineHeight":24.5,"dy":-36.75},"encoding":{"text":{"field":"t","type":"nominal"}}}]},
         {"width":103,"height":122,"data":{"values":[{"t":["Sex risk:","Brief","group","counseling"]}]},"view":{"stroke":null},"layer":[{"mark":{"type":"rect","fill":"white","stroke":"black","strokeWidth":2,"clip":true}},{"mark":{"type":"text","fontWeight":"bold","fontSize":17.5,"lineHeight":24.5,"dy":-36.75},"encoding":{"text":{"field":"t","type":"nominal"}}}]},
         {"width":104,"height":122,"data":{"values":[{"t":["Sex risk:","Long","group","counseling"]}]},"view":{"stroke":null},"layer":[{"mark":{"type":"rect","fill":"white","stroke":"black","strokeWidth":2,"clip":true}},{"mark":{"type":"text","fontWeight":"bold","fontSize":17.5,"lineHeight":24.5,"dy":-36.75},"encoding":{"text":{"field":"t","type":"nominal"}}}]},
         {"width":115,"height":122,"data":{"values":[{"t":["Sex risk:","Community","Intervention"]}]},"view":{"stroke":null},"layer":[{"mark":{"type":"rect","fill":"white","stroke":"black","strokeWidth":2,"clip":true}},{"mark":{"type":"text","fontWeight":"bold","fontSize":17.5,"lineHeight":24.5,"dy":-24.5},"encoding":{"text":{"field":"t","type":"nominal"}}}]}
       ],"spacing":0}
     ],"spacing":0},
     {"width":142,"height":148,"data":{"values":[{"t":["Discounted","Cost"]}]},"view":{"stroke":null},"layer":[{"mark":{"type":"rect","fill":"white","stroke":"black","strokeWidth":2,"clip":true}},{"mark":{"type":"text","fontWeight":"bold","fontSize":17.5,"lineHeight":24.5,"dy":-12.25},"encoding":{"text":{"field":"t","type":"nominal"}}}]},
     {"width":138,"height":148,"data":{"values":[{"t":["Discounted","QALYs"]}]},"view":{"stroke":null},"layer":[{"mark":{"type":"rect","fill":"white","stroke":"black","strokeWidth":2,"clip":true}},{"mark":{"type":"text","fontWeight":"bold","fontSize":17.5,"lineHeight":24.5,"dy":-12.25},"encoding":{"text":{"field":"t","type":"nominal"}}}]},
     {"width":111,"height":148,"data":{"values":[{"t":"ICER"}]},"view":{"stroke":null},"layer":[{"mark":{"type":"rect","fill":"white","stroke":"black","strokeWidth":2,"clip":true}},{"mark":{"type":"text","fontWeight":"bold","fontSize":17.5},"encoding":{"text":{"field":"t","type":"nominal"}}}]}
   ],"spacing":0},
   {"hconcat":[
     {"width":81,"height":132,"data":{"name":"tbl"},"view":{"stroke":null},"encoding":{"y":{"field":"pkg","type":"nominal","axis":null,"scale":{"type":"band","paddingInner":0,"paddingOuter":0}}},"layer":[{"mark":{"type":"rect","fill":"white","stroke":"black","strokeWidth":2,"clip":true}},{"mark":{"type":"text","fontSize":17.5},"encoding":{"text":{"field":"pkg","type":"nominal"}}}]},
     {"width":107,"height":132,"data":{"name":"tbl"},"view":{"stroke":null},"encoding":{"y":{"field":"pkg","type":"nominal","axis":null,"scale":{"type":"band","paddingInner":0,"paddingOuter":0}}},"layer":[{"mark":{"type":"rect","fill":"white","stroke":"black","strokeWidth":2,"clip":true}},{"mark":{"type":"text","fontSize":17.5},"encoding":{"text":{"field":"alc","type":"nominal"}}}]},
     {"width":107,"height":132,"data":{"name":"tbl"},"view":{"stroke":null},"encoding":{"y":{"field":"pkg","type":"nominal","axis":null,"scale":{"type":"band","paddingInner":0,"paddingOuter":0}}},"layer":[{"mark":{"type":"rect","fill":"white","stroke":"black","strokeWidth":2,"clip":true}},{"mark":{"type":"text","fontSize":17.5},"encoding":{"text":{"field":"sms","type":"nominal"}}}]},
     {"width":106,"height":132,"data":{"name":"tbl"},"view":{"stroke":null},"encoding":{"y":{"field":"pkg","type":"nominal","axis":null,"scale":{"type":"band","paddingInner":0,"paddingOuter":0}}},"layer":[{"mark":{"type":"rect","fill":"white","stroke":"black","strokeWidth":2,"clip":true}},{"mark":{"type":"text","fontSize":17.5},"encoding":{"text":{"field":"brf","type":"nominal"}}}]},
     {"width":103,"height":132,"data":{"name":"tbl"},"view":{"stroke":null},"encoding":{"y":{"field":"pkg","type":"nominal","axis":null,"scale":{"type":"band","paddingInner":0,"paddingOuter":0}}},"layer":[{"mark":{"type":"rect","fill":"white","stroke":"black","strokeWidth":2,"clip":true}},{"mark":{"type":"text","fontSize":17.5},"encoding":{"text":{"field":"sli","type":"nominal"}}}]},
     {"width":103,"height":132,"data":{"name":"tbl"},"view":{"stroke":null},"encoding":{"y":{"field":"pkg","type":"nominal","axis":null,"scale":{"type":"band","paddingInner":0,"paddingOuter":0}}},"layer":[{"mark":{"type":"rect","fill":"white","stroke":"black","strokeWidth":2,"clip":true}},{"mark":{"type":"text","fontSize":17.5},"encoding":{"text":{"field":"sbg","type":"nominal"}}}]},
     {"width":104,"height":132,"data":{"name":"tbl"},"view":{"stroke":null},"encoding":{"y":{"field":"pkg","type":"nominal","axis":null,"scale":{"type":"band","paddingInner":0,"paddingOuter":0}}},"layer":[{"mark":{"type":"rect","fill":"white","stroke":"black","strokeWidth":2,"clip":true}},{"mark":{"type":"text","fontSize":17.5},"encoding":{"text":{"field":"slg","type":"nominal"}}}]},
     {"width":115,"height":132,"data":{"name":"tbl"},"view":{"stroke":null},"encoding":{"y":{"field":"pkg","type":"nominal","axis":null,"scale":{"type":"band","paddingInner":0,"paddingOuter":0}}},"layer":[{"mark":{"type":"rect","fill":"white","stroke":"black","strokeWidth":2,"clip":true}},{"mark":{"type":"text","fontSize":17.5},"encoding":{"text":{"field":"com","type":"nominal"}}}]},
     {"width":142,"height":132,"data":{"name":"tbl"},"view":{"stroke":null},"encoding":{"y":{"field":"pkg","type":"nominal","axis":null,"scale":{"type":"band","paddingInner":0,"paddingOuter":0}}},"layer":[{"mark":{"type":"rect","fill":"white","stroke":"black","strokeWidth":2,"clip":true}},{"mark":{"type":"text","fontSize":17.5,"align":"right","dx":-9},"encoding":{"x":{"value":"width"},"text":{"field":"cost","type":"nominal"}}}]},
     {"width":138,"height":132,"data":{"name":"tbl"},"view":{"stroke":null},"encoding":{"y":{"field":"pkg","type":"nominal","axis":null,"scale":{"type":"band","paddingInner":0,"paddingOuter":0}}},"layer":[{"mark":{"type":"rect","fill":"white","stroke":"black","strokeWidth":2,"clip":true}},{"mark":{"type":"text","fontSize":17.5},"encoding":{"text":{"field":"qaly","type":"nominal"}}}]},
     {"width":111,"height":132,"data":{"name":"tbl"},"view":{"stroke":null},"encoding":{"y":{"field":"pkg","type":"nominal","axis":null,"scale":{"type":"band","paddingInner":0,"paddingOuter":0}}},"layer":[{"mark":{"type":"rect","fill":"white","stroke":"black","strokeWidth":2,"clip":true}},{"transform":[{"filter":"datum.pkg <= '2'"}],"mark":{"type":"text","fontSize":17.5},"encoding":{"text":{"field":"icer","type":"nominal"}}},{"transform":[{"filter":"datum.pkg > '2'"}],"mark":{"type":"text","fontSize":17.5,"align":"right","dx":-10},"encoding":{"x":{"value":"width"},"text":{"field":"icer","type":"nominal"}}}]}
   ],"spacing":0}
  ],"spacing":0}
 ],"spacing":0}
],
"columns":1,
"align":"none",
"spacing":-5,
"config":{
 "font":"Liberation Sans",
 "view":{"stroke":"#222","strokeWidth":1.8},
 "axis":{"domainColor":"#222","domainWidth":1.5,"tickColor":"#222","tickWidth":1.5,"tickSize":-6,"labelPadding":14,"labelFont":"Liberation Sans","labelFontSize":18.5,"labelColor":"#222","titleFont":"Liberation Sans","titleFontSize":19.5,"titleFontWeight":"normal","titleColor":"#222","grid":false,"labelFlush":false,"labelOverlap":false},
 "title":{"font":"Liberation Sans","fontSize":19.5,"fontWeight":"bold","color":"#222"},
 "text":{"font":"Liberation Sans","color":"black"},
 "scale":{"bandPaddingInner":0,"bandPaddingOuter":0}
}
}
